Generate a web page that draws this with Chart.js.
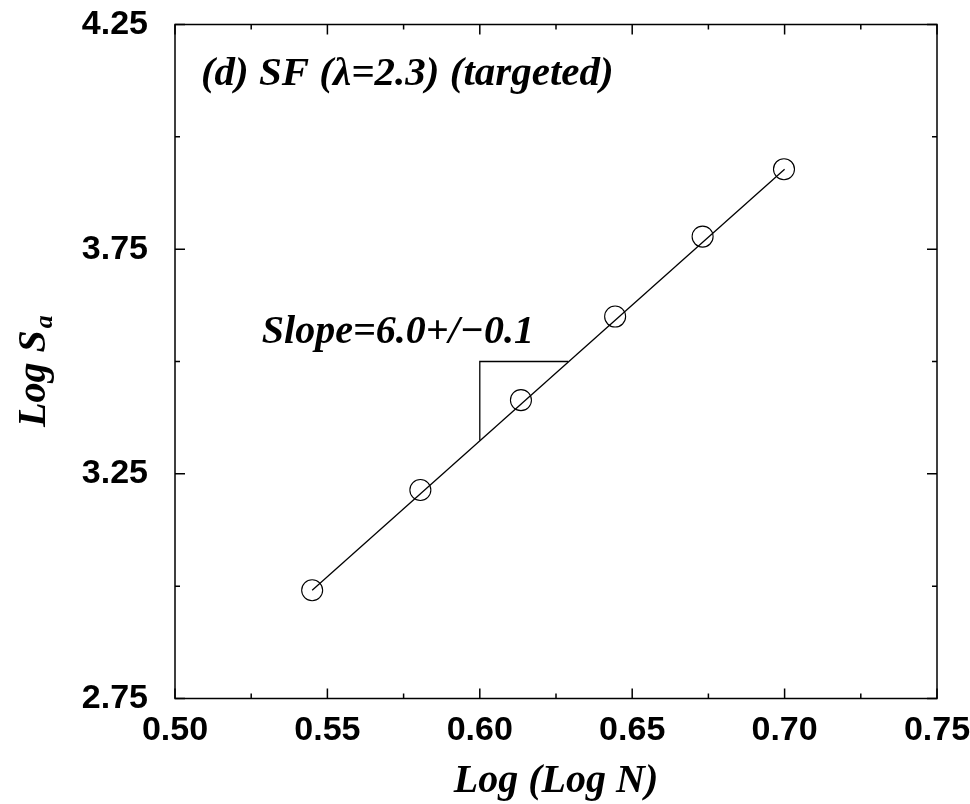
<!DOCTYPE html>
<html>
<head>
<meta charset="utf-8">
<script src="https://cdn.jsdelivr.net/npm/chart.js@4/dist/chart.umd.min.js"></script>
<style>
  html, body { margin: 0; padding: 0; background: #fff; }
  #wrap { width: 970px; height: 804px; }
</style>
</head>
<body>
<div id="wrap"><canvas id="c" width="970" height="804"></canvas></div>
<script>
// Measured points: Log(Log N) vs Log S_a
const logLogN = [0.545, 0.5805, 0.6135, 0.6444, 0.6731, 0.6998];
const logSa   = [2.991, 3.214, 3.414, 3.600, 3.778, 3.928];

// Least-squares fit line end points
const fitX = [0.545, 0.700];
const fitY = [2.991, 3.928];

// Slope triangle vertices
const slopeX = [0.600, 0.600, 0.629];
const slopeY = [3.324, 3.500, 3.500];

// Axis ticks
const xMajorTicks = [0.50, 0.55, 0.60, 0.65, 0.70, 0.75];
const xMinorTicks = [0.525, 0.575, 0.625, 0.675, 0.725];
const yMajorTicks = [2.75, 3.25, 3.75, 4.25];
const yMinorTicks = [3.00, 3.50, 4.00];

const panelLabel = '(d) SF (\u03bb=2.3) (targeted)';
const slopeLabel = 'Slope=6.0+/\u22120.1';
const xTitle = 'Log (Log N)';
const yTitle = 'Log S';
const yTitleSub = 'a';

const pts = (xs, ys) => xs.map((v, i) => ({ x: v, y: ys[i] }));

const serif = '"Liberation Serif", "Times New Roman", serif';
const sans = '"Liberation Sans", Arial, sans-serif';

// Boxed frame with inward ticks on all four sides, plus annotations and axis titles
const framePlugin = {
  id: 'frame',
  afterDatasetsDraw(chart) {
    const { ctx, chartArea: a, scales: { x, y } } = chart;
    ctx.save();
    ctx.strokeStyle = '#000';
    ctx.lineWidth = 1.5;
    ctx.strokeRect(a.left, a.top, a.right - a.left, a.bottom - a.top);

    ctx.beginPath();
    const xt = (vals, len) => vals.forEach(v => {
      const px = x.getPixelForValue(v);
      ctx.moveTo(px, a.bottom); ctx.lineTo(px, a.bottom - len);
      ctx.moveTo(px, a.top);    ctx.lineTo(px, a.top + len);
    });
    const yt = (vals, len) => vals.forEach(v => {
      const py = y.getPixelForValue(v);
      ctx.moveTo(a.left, py);  ctx.lineTo(a.left + len, py);
      ctx.moveTo(a.right, py); ctx.lineTo(a.right - len, py);
    });
    xt(xMajorTicks, 10); xt(xMinorTicks, 5);
    yt(yMajorTicks, 10); yt(yMinorTicks, 5);
    ctx.stroke();

    ctx.fillStyle = '#000';
    ctx.textBaseline = 'alphabetic';
    ctx.textAlign = 'left';
    ctx.font = 'italic bold 41px ' + serif;
    ctx.fillText(panelLabel, x.getPixelForValue(0.5085), y.getPixelForValue(4.115));
    ctx.font = 'italic bold 40px ' + serif;
    ctx.fillText(slopeLabel, x.getPixelForValue(0.5285), y.getPixelForValue(3.541));

    ctx.textAlign = 'center';
    ctx.fillText(xTitle, (a.left + a.right) / 2, 792);

    ctx.save();
    ctx.translate(45, 427);
    ctx.rotate(-Math.PI / 2);
    ctx.textAlign = 'left';
    ctx.fillText(yTitle, 0, 0);
    const w = ctx.measureText(yTitle).width;
    ctx.font = 'italic bold 26px ' + serif;
    ctx.fillText(yTitleSub, w + 2, 7);
    ctx.restore();

    ctx.restore();
  }
};

new Chart(document.getElementById('c'), {
  type: 'scatter',
  data: {
    datasets: [
      {
        label: 'fit',
        data: pts(fitX, fitY),
        showLine: true,
        borderColor: '#000',
        borderWidth: 1.3,
        pointRadius: 0,
        fill: false
      },
      {
        label: 'slope',
        data: pts(slopeX, slopeY),
        showLine: true,
        borderColor: '#000',
        borderWidth: 1.3,
        pointRadius: 0,
        fill: false
      },
      {
        label: 'S_a',
        data: pts(logLogN, logSa),
        showLine: false,
        pointStyle: 'circle',
        pointRadius: 10.5,
        pointBorderWidth: 1.1,
        pointBorderColor: '#000',
        pointBackgroundColor: 'rgba(0,0,0,0)'
      }
    ]
  },
  options: {
    responsive: false,
    animation: false,
    devicePixelRatio: 1,
    layout: { padding: { top: 24.5, right: 33, bottom: 0, left: 0 } },
    plugins: { legend: { display: false }, tooltip: { enabled: false } },
    scales: {
      x: {
        type: 'linear',
        min: 0.50, max: 0.75,
        grid: { display: false, drawTicks: false },
        border: { display: false },
        afterBuildTicks: s => { s.ticks = xMajorTicks.map(v => ({ value: v })); },
        afterFit: s => { s.height = 105.5; s.paddingLeft = 0; s.paddingRight = 0; },
        ticks: {
          padding: 12,
          maxRotation: 0,
          autoSkip: false,
          color: '#000',
          font: { family: sans, size: 34, weight: 'bold' },
          callback: v => Number(v).toFixed(2)
        }
      },
      y: {
        type: 'linear',
        min: 2.75, max: 4.25,
        grid: { display: false, drawTicks: false },
        border: { display: false },
        afterBuildTicks: s => { s.ticks = yMajorTicks.map(v => ({ value: v })); },
        afterFit: s => { s.width = 175; s.paddingTop = 0; s.paddingBottom = 0; },
        ticks: {
          padding: 27,
          autoSkip: false,
          color: '#000',
          font: { family: sans, size: 34, weight: 'bold' },
          callback: v => Number(v).toFixed(2)
        }
      }
    }
  },
  plugins: [framePlugin]
});
</script>
</body>
</html>
